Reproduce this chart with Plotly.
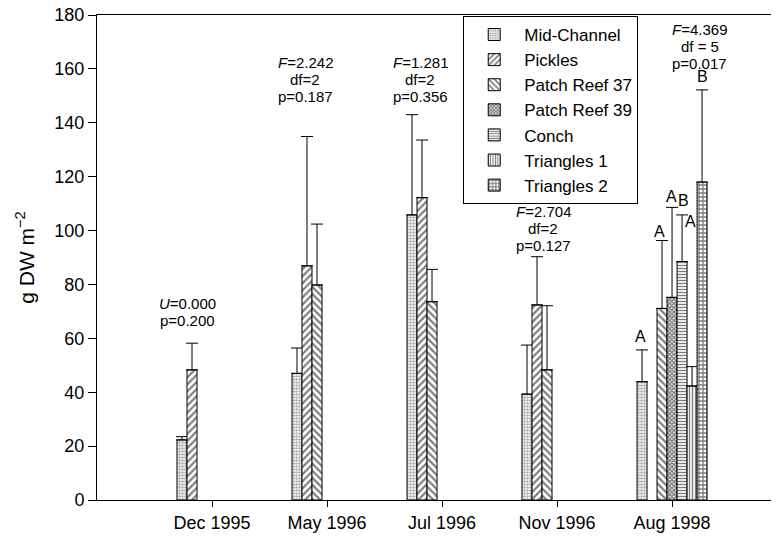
import plotly.graph_objects as go

# ---------------- data ----------------
categories = ["Dec 1995", "May 1996", "Jul 1996", "Nov 1996", "Aug 1998"]
series_names = ["Mid-Channel", "Pickles", "Patch Reef 37", "Patch Reef 39",
                "Conch", "Triangles 1", "Triangles 2"]

mid_channel   = [22.3, 47.0, 105.8, 39.3, 43.9]
mid_channel_e = [1.2, 9.4, 37.2, 18.2, 11.8]
pickles       = [48.3, 86.9, 112.2, 72.4, None]
pickles_e     = [9.9, 48.0, 21.4, 17.9, None]
patch_reef_37 = [None, 79.8, 73.6, 48.3, 71.1]
patch_reef_37_e = [None, 22.6, 12.0, 23.8, 25.2]
patch_reef_39 = [None, None, None, None, 75.2]
patch_reef_39_e = [None, None, None, None, 33.4]
conch         = [None, None, None, None, 88.5]
conch_e       = [None, None, None, None, 17.3]
triangles_1   = [None, None, None, None, 42.3]
triangles_1_e = [None, None, None, None, 7.2]
triangles_2   = [None, None, None, None, 118.0]
triangles_2_e = [None, None, None, None, 34.2]

stat_lines = [
    ["<i>U</i>=0.000", "p=0.200"],
    ["<i>F</i>=2.242", "df=2", "p=0.187"],
    ["<i>F</i>=1.281", "df=2", "p=0.356"],
    ["<i>F</i>=2.704", "df=2", "p=0.127"],
    ["<i>F</i>=4.369", "df = 5", "p=0.017"],
]
letters = ["A", "A", "A", "B", "A", "B"]

values = [mid_channel, pickles, patch_reef_37, patch_reef_39, conch, triangles_1, triangles_2]
errors = [mid_channel_e, pickles_e, patch_reef_37_e, patch_reef_39_e, conch_e, triangles_1_e, triangles_2_e]

# ---------------- styles ----------------
patterns = [
    dict(shape=".", size=3, solidity=0.55, fgcolor="#606060", bgcolor="white"),
    dict(shape="/", size=5, solidity=0.45, fgcolor="black", bgcolor="white"),
    dict(shape="\\", size=5, solidity=0.45, fgcolor="black", bgcolor="white"),
    dict(shape="x", size=3, solidity=0.7, fgcolor="black", bgcolor="white"),
    dict(shape="-", size=3, solidity=0.45, fgcolor="black", bgcolor="white"),
    dict(shape="|", size=3, solidity=0.45, fgcolor="black", bgcolor="white"),
    dict(shape="+", size=4, solidity=0.55, fgcolor="black", bgcolor="white"),
]

FONT = "Liberation Sans, Arial, sans-serif"

fig = go.Figure()
for name, vals, errs, pat in zip(series_names, values, errors, patterns):
    fig.add_trace(go.Bar(
        name=name, x=categories, y=vals,
        marker=dict(color="white", line=dict(color="black", width=1), pattern=pat),
        error_y=dict(type="data", symmetric=False, array=errs,
                     arrayminus=[0 if e is not None else None for e in errs],
                     color="black", thickness=1, width=6),
    ))

annotations = []
stat_x = [-0.217, 0.809, 1.809, 2.878, 4.243]
stat_y0 = [73.1, 162.2, 162.2, 107.0, 174.5]
line_step = 6.3
for gx, gy, lines in zip(stat_x, stat_y0, stat_lines):
    for k, t in enumerate(lines):
        annotations.append(dict(x=gx, y=gy - k * line_step, xref="x", yref="y",
                                text=t, showarrow=False, yanchor="middle",
                                font=dict(size=15, family=FONT, color="black")))

letter_x = [3.722, 3.887, 3.991, 4.096, 4.157, 4.261]
letter_y = [60.5, 99.5, 112.8, 111.0, 103.2, 157.0]
for lx, ly, t in zip(letter_x, letter_y, letters):
    annotations.append(dict(x=lx, y=ly, xref="x", yref="y", text=t, showarrow=False,
                            yanchor="middle",
                            font=dict(size=16, family=FONT, color="black")))

# page body has an 8px default margin; margins compensate for it
fig.update_layout(
    width=779, height=538,
    margin=dict(l=89, r=8, t=7, b=46, autoexpand=False),
    paper_bgcolor="white", plot_bgcolor="white",
    font=dict(family=FONT, size=18, color="black"),
    barmode="group", bargap=0.391, bargroupgap=0,
    showlegend=True,
    legend=dict(x=0.537, y=0.998, xanchor="left", yanchor="top",
                bordercolor="black", borderwidth=1, bgcolor="white",
                font=dict(size=17, family=FONT), itemwidth=50,
                tracegroupgap=0),
    annotations=annotations,
)
fig.update_xaxes(
    type="category", range=[-1, 4.93], automargin=False,
    showline=True, linecolor="black", linewidth=1, mirror=True,
    ticks="outside", ticklen=6, tickcolor="black",
    showgrid=False, tickfont=dict(size=18, family=FONT),
)
fig.update_yaxes(
    range=[0, 180], dtick=20, tick0=0, automargin=False,
    showline=True, linecolor="black", linewidth=1,
    ticks="outside", ticklen=8, tickcolor="black",
    showgrid=False, zeroline=False, ticklabeloverflow="allow",
    tickfont=dict(size=18, family=FONT),
    title=dict(text="g DW m<sup>\u22122</sup>", font=dict(size=21, family=FONT), standoff=14),
)

fig.write_html("out.html")
